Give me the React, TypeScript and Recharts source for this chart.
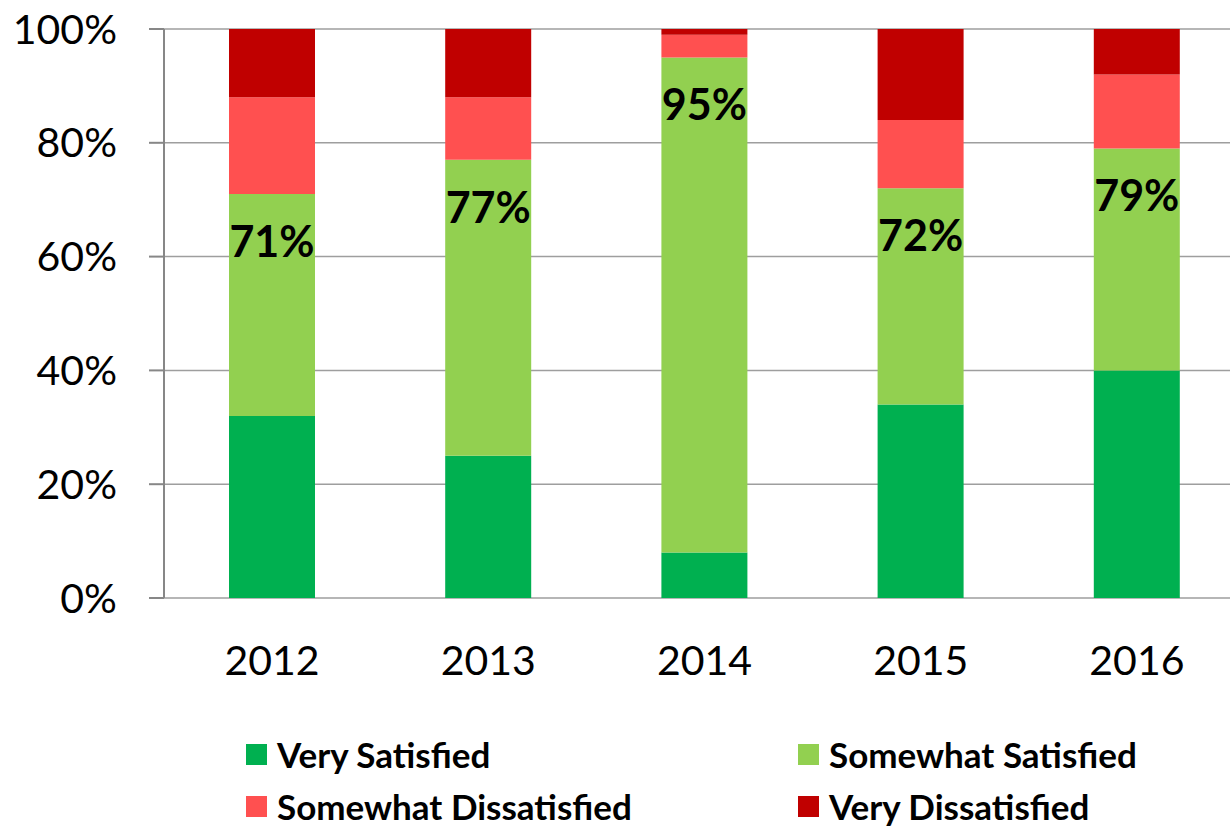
import React from 'react';
import { BarChart, Bar, XAxis, YAxis, CartesianGrid, Legend, LabelList } from 'recharts';

const years = ['2012', '2013', '2014', '2015', '2016'];
const verySatisfied = [32, 25, 8, 34, 40];
const somewhatSatisfied = [39, 52, 87, 38, 39];
const somewhatDissatisfied = [17, 11, 4, 12, 13];
const veryDissatisfied = [12, 12, 1, 16, 8];
const yTicks = [0, 20, 40, 60, 80, 100];
const boundaryTicks = [0, 1, 2, 3, 4, 5];
const legendOrder = ['Very Satisfied', 'Somewhat Satisfied', 'Somewhat Dissatisfied', 'Very Dissatisfied'];

const data = years.map((year, i) => ({
  year,
  vs: verySatisfied[i],
  ss: somewhatSatisfied[i],
  sd: somewhatDissatisfied[i],
  vd: veryDissatisfied[i],
  satisfied: verySatisfied[i] + somewhatSatisfied[i],
}));

const FONT = 'Lato, "Open Sans", sans-serif';
const AXIS = '#878787';
const GRID = '#9e9e9e';

const renderLabel = (props: any) => {
  const vb = props.viewBox || {};
  const x = props.x ?? vb.x;
  const y = props.y ?? vb.y;
  const width = props.width ?? vb.width;
  return (
    <text
      x={x + width / 2}
      y={y + 63}
      textAnchor="middle"
      fontFamily={FONT}
      fontWeight={700}
      fontSize={43}
      fill="#000"
    >
      {props.value}%
    </text>
  );
};

const renderLegend = (props: any) => {
  const payload = [...(props.payload || [])].sort(
    (a: any, b: any) => legendOrder.indexOf(a.value) - legendOrder.indexOf(b.value)
  );
  return (
    <div
      style={{
        height: 125,
        boxSizing: 'border-box',
        paddingTop: 24,
        paddingLeft: 246,
        display: 'grid',
        gridTemplateColumns: '552px auto',
        gridAutoRows: '52px',
        fontFamily: FONT,
      }}
    >
      {payload.map((p: any) => (
        <div key={p.value} style={{ display: 'flex', alignItems: 'center' }}>
          <span style={{ width: 21, height: 21, background: p.color, display: 'inline-block', marginRight: 10 }} />
          <span style={{ fontSize: 35, lineHeight: '36px', fontWeight: 700, color: '#000', whiteSpace: 'nowrap' }}>
            {p.value}
          </span>
        </div>
      ))}
    </div>
  );
};

export default function App() {
  return (
    <div
      style={{
        position: 'absolute',
        left: 0,
        top: 0,
        width: 1230,
        height: 829,
        overflow: 'hidden',
        background: '#fff',
        fontFamily: FONT,
      }}
    >
      <BarChart width={1245} height={829} data={data} margin={{ top: 29, right: 0, left: 0, bottom: 0 }}>
        <CartesianGrid vertical={false} stroke={GRID} strokeWidth={1.5} />
        <XAxis
          xAxisId="bounds"
          type="number"
          domain={[0, 5]}
          ticks={boundaryTicks}
          allowDataOverflow
          height={0}
          tick={false}
          tickSize={15}
          tickLine={{ stroke: AXIS, strokeWidth: 2 }}
          axisLine={{ stroke: AXIS, strokeWidth: 2 }}
        />
        <XAxis
          xAxisId="cat"
          dataKey="year"
          height={106}
          axisLine={false}
          tickLine={false}
          tickSize={0}
          tickMargin={48}
          tick={{ fontSize: 41, fill: '#000', fontFamily: FONT }}
        />
        <YAxis
          width={164}
          domain={[0, 100]}
          ticks={yTicks}
          tickFormatter={(v: number) => `${v}%`}
          tickSize={15}
          tickMargin={32}
          tick={{ fontSize: 41, fill: '#000', fontFamily: FONT }}
          tickLine={{ stroke: AXIS, strokeWidth: 2 }}
          axisLine={{ stroke: AXIS, strokeWidth: 2 }}
        />
        <Legend verticalAlign="bottom" content={renderLegend} />
        <Bar xAxisId="cat" dataKey="vs" name="Very Satisfied" stackId="a" fill="#00B050" barSize={86} isAnimationActive={false} />
        <Bar xAxisId="cat" dataKey="ss" name="Somewhat Satisfied" stackId="a" fill="#92D050" barSize={86} isAnimationActive={false}>
          <LabelList dataKey="satisfied" content={renderLabel} />
        </Bar>
        <Bar xAxisId="cat" dataKey="sd" name="Somewhat Dissatisfied" stackId="a" fill="#FF5050" barSize={86} isAnimationActive={false} />
        <Bar xAxisId="cat" dataKey="vd" name="Very Dissatisfied" stackId="a" fill="#C00000" barSize={86} isAnimationActive={false} />
      </BarChart>
    </div>
  );
}
